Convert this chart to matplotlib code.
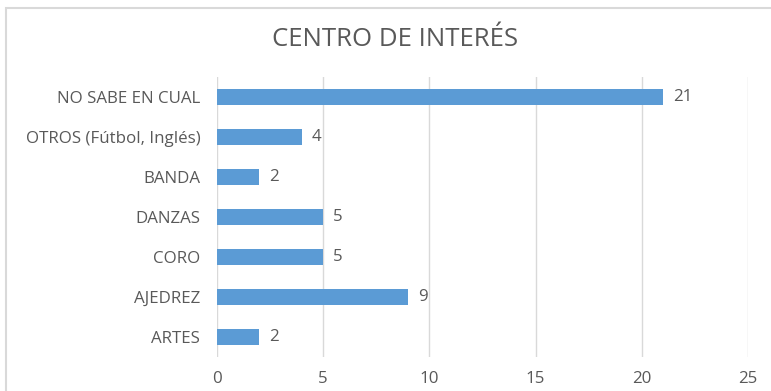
import matplotlib.pyplot as plt
from matplotlib.patches import Rectangle

categorias = ["ARTES", "AJEDREZ", "CORO", "DANZAS", "BANDA",
              "OTROS (Fútbol, Inglés)", "NO SABE EN CUAL"]
valores = [2, 9, 5, 5, 2, 4, 21]
ticks_x = [0, 5, 10, 15, 20, 25]

gris = "#595959"
plt.rcParams["font.family"] = ["Open Sans", "DejaVu Sans"]

fig = plt.figure(figsize=(7.71, 3.91), dpi=100)
ax = fig.add_axes([217 / 771, 1 - 357 / 391, 531 / 771, 280 / 391])

pos = list(range(len(categorias)))
barras = ax.barh(pos, valores, height=0.38, color="#5B9BD5", zorder=3)
for b, v in zip(barras, valores):
    ax.annotate(str(v), (b.get_width(), b.get_y() + b.get_height() / 2),
                xytext=(7, 0), textcoords="offset points",
                va="center", ha="left", fontsize=12.2, color=gris)

ax.set_xlim(0, 25)
ax.set_ylim(-0.5, len(categorias) - 0.5)
ax.set_xticks(ticks_x)
ax.set_yticks(pos)
ax.set_yticklabels(categorias)
ax.tick_params(axis="both", length=0, labelsize=12.2, labelcolor=gris)
ax.tick_params(axis="x", pad=10)
ax.tick_params(axis="y", pad=12)
ax.grid(axis="x", color="#D9D9D9", linewidth=1, zorder=0)
for s in ax.spines.values():
    s.set_visible(False)

fig.text(395 / 771, 1 - 40 / 391, "CENTRO DE INTERÉS", ha="center",
         va="center", fontsize=18.5, color=gris)

# marco del área del gráfico (se sale por la derecha y por abajo)
fig.patches.append(Rectangle((6 / 771, -0.1), 1.2, 1.1 - 8 / 391,
                             transform=fig.transFigure, fill=False,
                             edgecolor="#D9D9D9", linewidth=1.5))

fig.savefig("out.png", dpi=100)
